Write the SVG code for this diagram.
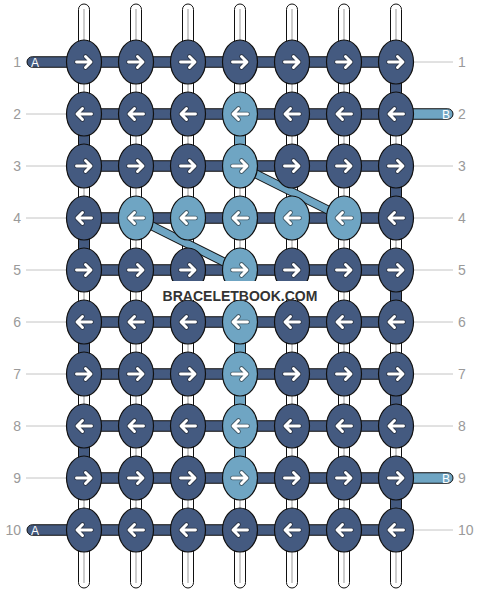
<svg xmlns="http://www.w3.org/2000/svg" xmlns:xlink="http://www.w3.org/1999/xlink" width="480" height="592" viewBox="0 0 480 592">
<style>
.tube{fill:#fff;stroke:#111;stroke-width:1}
.core{stroke:#bdbdbd;stroke-width:1.5}
.dk{fill:#445a80;stroke:#111;stroke-width:1}
.lt{fill:#6fa5c3;stroke:#111;stroke-width:1}
.knd{fill:#445a80;stroke:#111;stroke-width:1.2}
.knl{fill:#6fa5c3;stroke:#111;stroke-width:1.2}
.lbl{font-family:"Liberation Sans",Arial,sans-serif;font-size:14px;fill:#9a9a9a}
.tab{font-family:"Liberation Sans",Arial,sans-serif;font-size:12px;fill:#fff}
.gl{stroke:#c4c4c4;stroke-width:1}
.bo{stroke:#111;stroke-width:9;stroke-linecap:butt}
.bi{stroke:#6fa5c3;stroke-width:7;stroke-linecap:butt}
</style>
<defs>
<g id="ar"><path d="M-7.5,0 H6.5 M1.5,-5.5 L7,0 L1.5,5.5" fill="none" stroke="#1a1a1a" stroke-opacity="0.55" stroke-width="4.6" stroke-linecap="round" stroke-linejoin="round"/><path d="M-7.5,0 H6.5 M1.5,-5.5 L7,0 L1.5,5.5" fill="none" stroke="#fff" stroke-width="2.9" stroke-linecap="round" stroke-linejoin="round"/></g>
<g id="al"><use xlink:href="#ar" transform="scale(-1,1)"/></g>
</defs>
<rect width="480" height="592" fill="#fff"/>
<g id="strings">
<rect class="tube" x="78.5" y="4" width="11" height="584" rx="5.5"/>
<rect class="tube" x="130.5" y="4" width="11" height="584" rx="5.5"/>
<rect class="tube" x="182.5" y="4" width="11" height="584" rx="5.5"/>
<rect class="tube" x="234.5" y="4" width="11" height="584" rx="5.5"/>
<rect class="tube" x="286.5" y="4" width="11" height="584" rx="5.5"/>
<rect class="tube" x="338.5" y="4" width="11" height="584" rx="5.5"/>
<rect class="tube" x="390.5" y="4" width="11" height="584" rx="5.5"/>
<path class="core" d="M84,9V583M136,9V583M188,9V583M240,9V583M292,9V583M344,9V583M396,9V583"/>
</g>
<g id="labels">
<path class="gl" d="M26,114H84M26,166H84M26,218H84M26,270H84M26,322H84M26,374H84M26,426H84M26,478H84"/>
<path class="gl" d="M396,62H453M396,166H453M396,218H453M396,270H453M396,322H453M396,374H453M396,426H453M396,530H453"/>
<g class="lbl" text-anchor="end">
<text x="21" y="67">1</text><text x="21" y="119">2</text><text x="21" y="171">3</text><text x="21" y="223">4</text><text x="21" y="275">5</text><text x="21" y="327">6</text><text x="21" y="379">7</text><text x="21" y="431">8</text><text x="21" y="483">9</text><text x="21" y="535">10</text>
</g>
<g class="lbl">
<text x="458" y="67">1</text><text x="458" y="119">2</text><text x="458" y="171">3</text><text x="458" y="223">4</text><text x="458" y="275">5</text><text x="458" y="327">6</text><text x="458" y="379">7</text><text x="458" y="431">8</text><text x="458" y="483">9</text><text x="458" y="535">10</text>
</g>
</g>
<g id="connectors">
<rect class="dk" x="78.5" y="114" width="11" height="52"/>
<rect class="dk" x="78.5" y="218" width="11" height="52"/>
<rect class="dk" x="78.5" y="322" width="11" height="52"/>
<rect class="dk" x="78.5" y="426" width="11" height="52"/>
<rect class="dk" x="390.5" y="62" width="11" height="52"/>
<rect class="dk" x="390.5" y="166" width="11" height="52"/>
<rect class="dk" x="390.5" y="270" width="11" height="52"/>
<rect class="dk" x="390.5" y="374" width="11" height="52"/>
<rect class="dk" x="390.5" y="478" width="11" height="52"/>
<rect class="lt" x="234.5" y="114" width="11" height="52"/>
<rect class="lt" x="234.5" y="270" width="11" height="52"/>
<rect class="lt" x="234.5" y="322" width="11" height="52"/>
<rect class="lt" x="234.5" y="374" width="11" height="52"/>
<rect class="lt" x="234.5" y="426" width="11" height="52"/>
<rect class="dk" x="27" y="56.75" width="63" height="10.5" rx="5.25"/>
<rect class="dk" x="27" y="524.75" width="63" height="10.5" rx="5.25"/>
<rect class="lt" x="390" y="108.75" width="63" height="10.5" rx="5.25"/>
<rect class="lt" x="390" y="472.75" width="63" height="10.5" rx="5.25"/>
<rect class="dk" x="84" y="56.75" width="312" height="10.5"/>
<rect class="dk" x="84" y="108.75" width="312" height="10.5"/>
<rect class="dk" x="84" y="160.75" width="312" height="10.5"/>
<rect class="dk" x="84" y="212.75" width="312" height="10.5"/>
<rect class="dk" x="84" y="264.75" width="312" height="10.5"/>
<rect class="dk" x="84" y="316.75" width="312" height="10.5"/>
<rect class="dk" x="84" y="368.75" width="312" height="10.5"/>
<rect class="dk" x="84" y="420.75" width="312" height="10.5"/>
<rect class="dk" x="84" y="472.75" width="312" height="10.5"/>
<rect class="dk" x="84" y="524.75" width="312" height="10.5"/>
<path class="bo" d="M240,166L344,218M136,218L240,270"/>
<path class="bi" d="M240,166L344,218M136,218L240,270"/>
<text class="tab" x="31" y="66.5">A</text>
<text class="tab" x="31" y="534.5">A</text>
<text class="tab" x="450" y="118.5" text-anchor="end">B</text>
<text class="tab" x="450" y="482.5" text-anchor="end">B</text>
</g>
<g id="knots">
<g id="k1-1"><ellipse class="knd" cx="84" cy="62" rx="17.5" ry="22"/><use xlink:href="#ar" x="84" y="62"/></g>
<g id="k1-2"><ellipse class="knd" cx="136" cy="62" rx="17.5" ry="22"/><use xlink:href="#ar" x="136" y="62"/></g>
<g id="k1-3"><ellipse class="knd" cx="188" cy="62" rx="17.5" ry="22"/><use xlink:href="#ar" x="188" y="62"/></g>
<g id="k1-4"><ellipse class="knd" cx="240" cy="62" rx="17.5" ry="22"/><use xlink:href="#ar" x="240" y="62"/></g>
<g id="k1-5"><ellipse class="knd" cx="292" cy="62" rx="17.5" ry="22"/><use xlink:href="#ar" x="292" y="62"/></g>
<g id="k1-6"><ellipse class="knd" cx="344" cy="62" rx="17.5" ry="22"/><use xlink:href="#ar" x="344" y="62"/></g>
<g id="k1-7"><ellipse class="knd" cx="396" cy="62" rx="17.5" ry="22"/><use xlink:href="#ar" x="396" y="62"/></g>
<g id="k2-1"><ellipse class="knd" cx="84" cy="114" rx="17.5" ry="22"/><use xlink:href="#al" x="84" y="114"/></g>
<g id="k2-2"><ellipse class="knd" cx="136" cy="114" rx="17.5" ry="22"/><use xlink:href="#al" x="136" y="114"/></g>
<g id="k2-3"><ellipse class="knd" cx="188" cy="114" rx="17.5" ry="22"/><use xlink:href="#al" x="188" y="114"/></g>
<g id="k2-4"><ellipse class="knl" cx="240" cy="114" rx="17.5" ry="22"/><use xlink:href="#al" x="240" y="114"/></g>
<g id="k2-5"><ellipse class="knd" cx="292" cy="114" rx="17.5" ry="22"/><use xlink:href="#al" x="292" y="114"/></g>
<g id="k2-6"><ellipse class="knd" cx="344" cy="114" rx="17.5" ry="22"/><use xlink:href="#al" x="344" y="114"/></g>
<g id="k2-7"><ellipse class="knd" cx="396" cy="114" rx="17.5" ry="22"/><use xlink:href="#al" x="396" y="114"/></g>
<g id="k3-1"><ellipse class="knd" cx="84" cy="166" rx="17.5" ry="22"/><use xlink:href="#ar" x="84" y="166"/></g>
<g id="k3-2"><ellipse class="knd" cx="136" cy="166" rx="17.5" ry="22"/><use xlink:href="#ar" x="136" y="166"/></g>
<g id="k3-3"><ellipse class="knd" cx="188" cy="166" rx="17.5" ry="22"/><use xlink:href="#ar" x="188" y="166"/></g>
<g id="k3-4"><ellipse class="knl" cx="240" cy="166" rx="17.5" ry="22"/><use xlink:href="#ar" x="240" y="166"/></g>
<g id="k3-5"><ellipse class="knd" cx="292" cy="166" rx="17.5" ry="22"/><use xlink:href="#ar" x="292" y="166"/></g>
<g id="k3-6"><ellipse class="knd" cx="344" cy="166" rx="17.5" ry="22"/><use xlink:href="#ar" x="344" y="166"/></g>
<g id="k3-7"><ellipse class="knd" cx="396" cy="166" rx="17.5" ry="22"/><use xlink:href="#ar" x="396" y="166"/></g>
<g id="k4-1"><ellipse class="knd" cx="84" cy="218" rx="17.5" ry="22"/><use xlink:href="#al" x="84" y="218"/></g>
<g id="k4-2"><ellipse class="knl" cx="136" cy="218" rx="17.5" ry="22"/><use xlink:href="#al" x="136" y="218"/></g>
<g id="k4-3"><ellipse class="knl" cx="188" cy="218" rx="17.5" ry="22"/><use xlink:href="#al" x="188" y="218"/></g>
<g id="k4-4"><ellipse class="knl" cx="240" cy="218" rx="17.5" ry="22"/><use xlink:href="#al" x="240" y="218"/></g>
<g id="k4-5"><ellipse class="knl" cx="292" cy="218" rx="17.5" ry="22"/><use xlink:href="#al" x="292" y="218"/></g>
<g id="k4-6"><ellipse class="knl" cx="344" cy="218" rx="17.5" ry="22"/><use xlink:href="#al" x="344" y="218"/></g>
<g id="k4-7"><ellipse class="knd" cx="396" cy="218" rx="17.5" ry="22"/><use xlink:href="#al" x="396" y="218"/></g>
<g id="k5-1"><ellipse class="knd" cx="84" cy="270" rx="17.5" ry="22"/><use xlink:href="#ar" x="84" y="270"/></g>
<g id="k5-2"><ellipse class="knd" cx="136" cy="270" rx="17.5" ry="22"/><use xlink:href="#ar" x="136" y="270"/></g>
<g id="k5-3"><ellipse class="knd" cx="188" cy="270" rx="17.5" ry="22"/><use xlink:href="#ar" x="188" y="270"/></g>
<g id="k5-4"><ellipse class="knl" cx="240" cy="270" rx="17.5" ry="22"/><use xlink:href="#ar" x="240" y="270"/></g>
<g id="k5-5"><ellipse class="knd" cx="292" cy="270" rx="17.5" ry="22"/><use xlink:href="#ar" x="292" y="270"/></g>
<g id="k5-6"><ellipse class="knd" cx="344" cy="270" rx="17.5" ry="22"/><use xlink:href="#ar" x="344" y="270"/></g>
<g id="k5-7"><ellipse class="knd" cx="396" cy="270" rx="17.5" ry="22"/><use xlink:href="#ar" x="396" y="270"/></g>
<g id="k6-1"><ellipse class="knd" cx="84" cy="322" rx="17.5" ry="22"/><use xlink:href="#al" x="84" y="322"/></g>
<g id="k6-2"><ellipse class="knd" cx="136" cy="322" rx="17.5" ry="22"/><use xlink:href="#al" x="136" y="322"/></g>
<g id="k6-3"><ellipse class="knd" cx="188" cy="322" rx="17.5" ry="22"/><use xlink:href="#al" x="188" y="322"/></g>
<g id="k6-4"><ellipse class="knl" cx="240" cy="322" rx="17.5" ry="22"/><use xlink:href="#al" x="240" y="322"/></g>
<g id="k6-5"><ellipse class="knd" cx="292" cy="322" rx="17.5" ry="22"/><use xlink:href="#al" x="292" y="322"/></g>
<g id="k6-6"><ellipse class="knd" cx="344" cy="322" rx="17.5" ry="22"/><use xlink:href="#al" x="344" y="322"/></g>
<g id="k6-7"><ellipse class="knd" cx="396" cy="322" rx="17.5" ry="22"/><use xlink:href="#al" x="396" y="322"/></g>
<g id="k7-1"><ellipse class="knd" cx="84" cy="374" rx="17.5" ry="22"/><use xlink:href="#ar" x="84" y="374"/></g>
<g id="k7-2"><ellipse class="knd" cx="136" cy="374" rx="17.5" ry="22"/><use xlink:href="#ar" x="136" y="374"/></g>
<g id="k7-3"><ellipse class="knd" cx="188" cy="374" rx="17.5" ry="22"/><use xlink:href="#ar" x="188" y="374"/></g>
<g id="k7-4"><ellipse class="knl" cx="240" cy="374" rx="17.5" ry="22"/><use xlink:href="#ar" x="240" y="374"/></g>
<g id="k7-5"><ellipse class="knd" cx="292" cy="374" rx="17.5" ry="22"/><use xlink:href="#ar" x="292" y="374"/></g>
<g id="k7-6"><ellipse class="knd" cx="344" cy="374" rx="17.5" ry="22"/><use xlink:href="#ar" x="344" y="374"/></g>
<g id="k7-7"><ellipse class="knd" cx="396" cy="374" rx="17.5" ry="22"/><use xlink:href="#ar" x="396" y="374"/></g>
<g id="k8-1"><ellipse class="knd" cx="84" cy="426" rx="17.5" ry="22"/><use xlink:href="#al" x="84" y="426"/></g>
<g id="k8-2"><ellipse class="knd" cx="136" cy="426" rx="17.5" ry="22"/><use xlink:href="#al" x="136" y="426"/></g>
<g id="k8-3"><ellipse class="knd" cx="188" cy="426" rx="17.5" ry="22"/><use xlink:href="#al" x="188" y="426"/></g>
<g id="k8-4"><ellipse class="knl" cx="240" cy="426" rx="17.5" ry="22"/><use xlink:href="#al" x="240" y="426"/></g>
<g id="k8-5"><ellipse class="knd" cx="292" cy="426" rx="17.5" ry="22"/><use xlink:href="#al" x="292" y="426"/></g>
<g id="k8-6"><ellipse class="knd" cx="344" cy="426" rx="17.5" ry="22"/><use xlink:href="#al" x="344" y="426"/></g>
<g id="k8-7"><ellipse class="knd" cx="396" cy="426" rx="17.5" ry="22"/><use xlink:href="#al" x="396" y="426"/></g>
<g id="k9-1"><ellipse class="knd" cx="84" cy="478" rx="17.5" ry="22"/><use xlink:href="#ar" x="84" y="478"/></g>
<g id="k9-2"><ellipse class="knd" cx="136" cy="478" rx="17.5" ry="22"/><use xlink:href="#ar" x="136" y="478"/></g>
<g id="k9-3"><ellipse class="knd" cx="188" cy="478" rx="17.5" ry="22"/><use xlink:href="#ar" x="188" y="478"/></g>
<g id="k9-4"><ellipse class="knl" cx="240" cy="478" rx="17.5" ry="22"/><use xlink:href="#ar" x="240" y="478"/></g>
<g id="k9-5"><ellipse class="knd" cx="292" cy="478" rx="17.5" ry="22"/><use xlink:href="#ar" x="292" y="478"/></g>
<g id="k9-6"><ellipse class="knd" cx="344" cy="478" rx="17.5" ry="22"/><use xlink:href="#ar" x="344" y="478"/></g>
<g id="k9-7"><ellipse class="knd" cx="396" cy="478" rx="17.5" ry="22"/><use xlink:href="#ar" x="396" y="478"/></g>
<g id="k10-1"><ellipse class="knd" cx="84" cy="530" rx="17.5" ry="22"/><use xlink:href="#al" x="84" y="530"/></g>
<g id="k10-2"><ellipse class="knd" cx="136" cy="530" rx="17.5" ry="22"/><use xlink:href="#al" x="136" y="530"/></g>
<g id="k10-3"><ellipse class="knd" cx="188" cy="530" rx="17.5" ry="22"/><use xlink:href="#al" x="188" y="530"/></g>
<g id="k10-4"><ellipse class="knd" cx="240" cy="530" rx="17.5" ry="22"/><use xlink:href="#al" x="240" y="530"/></g>
<g id="k10-5"><ellipse class="knd" cx="292" cy="530" rx="17.5" ry="22"/><use xlink:href="#al" x="292" y="530"/></g>
<g id="k10-6"><ellipse class="knd" cx="344" cy="530" rx="17.5" ry="22"/><use xlink:href="#al" x="344" y="530"/></g>
<g id="k10-7"><ellipse class="knd" cx="396" cy="530" rx="17.5" ry="22"/><use xlink:href="#al" x="396" y="530"/></g>
</g>
<g id="watermark">
<rect x="152" y="281" width="176" height="19" fill="#fff"/>
<text x="240" y="301" text-anchor="middle" font-family="Liberation Sans, Arial, sans-serif" font-weight="bold" font-size="14" fill="#333">BRACELETBOOK.COM</text>
</g>
</svg>
